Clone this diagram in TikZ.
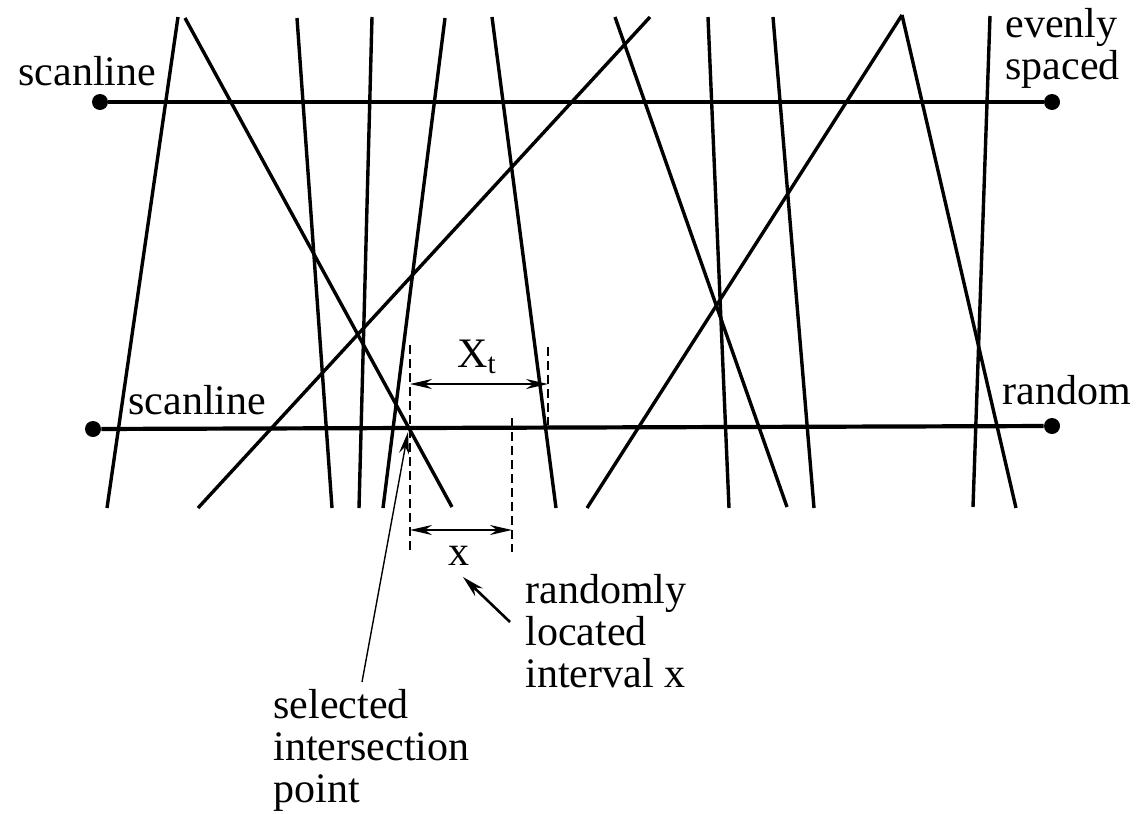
\documentclass[tikz,border=0pt]{standalone}
\usepackage{fontspec}
\setmainfont{Liberation Serif}
\usetikzlibrary{arrows.meta}
\begin{document}
\begin{tikzpicture}[x=0.5pt,y=-0.5pt,
  ray/.style={line width=1.7pt},
  scan/.style={line width=2.1pt},
  guide/.style={line width=1.1pt, dash pattern=on 4.5pt off 2.5pt},
  dim/.style={line width=1.1pt, {Stealth[length=11pt,width=5pt]}-{Stealth[length=11pt,width=5pt]}},
  dotnode/.style={circle, fill, inner sep=0pt, minimum size=8pt},
  lab/.style={font=\fontsize{21}{21}\selectfont, inner sep=0pt, align=left},
]
\useasboundingbox (0,0) rectangle (1141,814);

% scanline end dots
\node[dotnode] (tl) at (100,102) {};
\node[dotnode] (tr) at (1052,102) {};
\node[dotnode] (bl) at (93,429) {};
\node[dotnode] (br) at (1052,426) {};
\draw[scan] (tl) -- (tr);
\draw[scan] (bl) -- (br);

% random lines
\draw[ray] (178,17) -- (107,508);
\draw[ray] (185,18) -- (452,507);
\draw[ray] (297,18) -- (332,508);
\draw[ray] (372,17) -- (359,508);
\draw[ray] (198,508) -- (650,17);
\draw[ray] (445,18) -- (383,508);
\draw[ray] (492,17) -- (556,508);
\draw[ray] (615,17) -- (787,507);
\draw[ray] (708,17) -- (729,508);
\draw[ray] (587,508) -- (902,15);
\draw[ray] (902,15) -- (1016,508);
\draw[ray] (773,17) -- (814,508);
\draw[ray] (990,16) -- (973,507);

% guide (dashed) lines
\coordinate (ga) at (410,345);
\coordinate (gb) at (410,552);
\coordinate (gc) at (548,347);
\coordinate (gd) at (548,425);
\coordinate (ge) at (512,418);
\coordinate (gf) at (512,552);
\draw[guide] (ga) -- (gb);
\draw[guide] (gc) -- (gd);
\draw[guide] (ge) -- (gf);

% dimension arrows
\coordinate (xt1) at (410,384);
\coordinate (xt2) at (548,384);
\coordinate (xx1) at (410,530);
\coordinate (xx2) at (512,530);
\draw[dim] (xt1) -- (xt2);
\draw[dim] (xx1) -- (xx2);
\node[lab, anchor=base west] (Xt) at (457,367) {X\textsubscript{t}};
\node[lab, anchor=base west] (xl) at (448,565) {x};

% labels
\node[lab, anchor=base west] (s1) at (18,85) {scanline};
\node[lab, anchor=base west] (s2) at (128,414) {scanline};
\node[lab, anchor=north west] (ev) at (1005,8) {evenly\\spaced};
\node[lab, anchor=base west] (rd) at (1002,404) {random};
\node[lab, anchor=north west] (rl) at (525,574) {randomly\\located\\interval x};
\node[lab, anchor=north west] (sel) at (273,689) {selected\\intersection\\point};

% pointers
\coordinate (sp) at (408,432);
\coordinate (st) at (362,682);
\draw[line width=0.7pt, -{Stealth[length=11pt,width=5pt]}] (st) -- (sp);
\coordinate (rt) at (510,622);
\coordinate (rx) at (463,577);
\draw[line width=1.3pt, -{Stealth[length=11pt,width=5.5pt]}] (rt) -- (rx);
\end{tikzpicture}
\end{document}
